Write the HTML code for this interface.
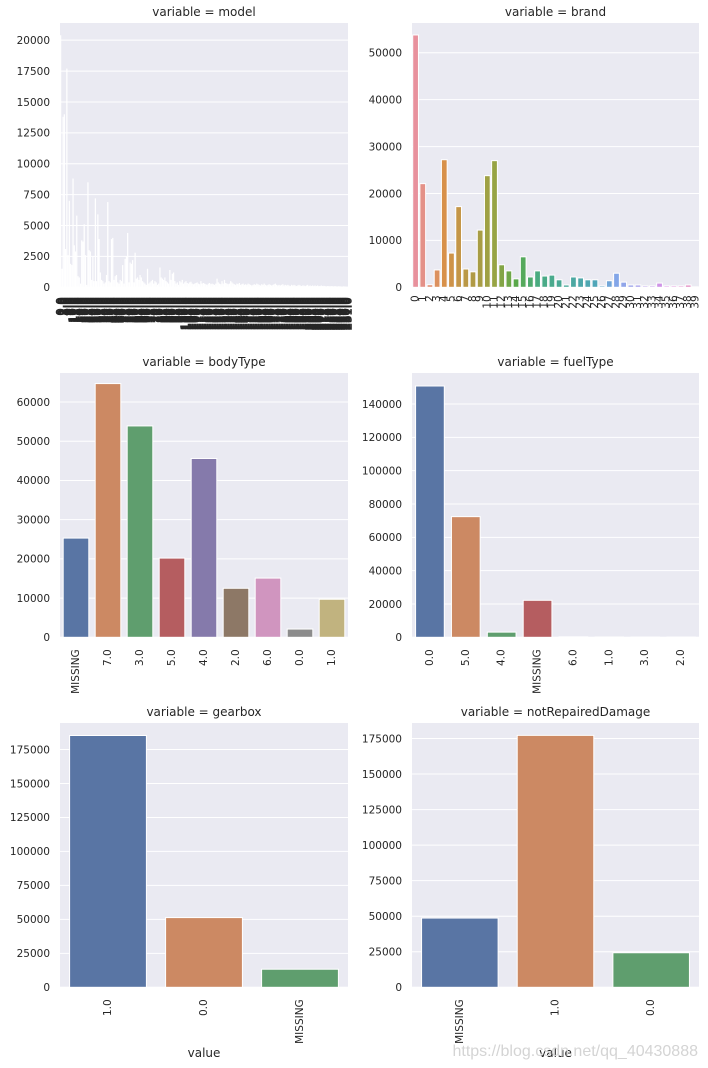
<!DOCTYPE html>
<html><head><meta charset="utf-8"><style>
html,body{margin:0;padding:0;background:#fff}
svg{display:block;font-family:"DejaVu Sans","Liberation Sans",sans-serif}
</style></head><body>
<svg id="chart" width="708" height="1068" viewBox="0 0 708 1068"></svg>
<script>
const modelValues=[20400,1500,13800,14000,3100,17700,2600,7000,1900,1800,8800,3400,2900,5800,900,800,300,3800,3700,5100,2600,200,8500,3000,2900,600,2500,500,7200,500,5900,3900,1200,600,500,300,400,1000,6900,500,400,3900,4000,600,900,1000,400,300,600,500,1800,300,2300,2500,4400,400,2000,1900,2200,400,
2800,700,800,600,1000,800,500,400,300,200,1500,300,400,500,600,300,500,400,200,300,1600,800,700,600,800,500,400,300,1400,600,1100,1200,500,300,400,200,
500,400,600,300,400,500,350,300,400,450,300,250,300,350,400,300,250,500,300,350,
300,250,200,300,350,250,300,250,200,300,700,400,300,250,500,300,600,350,300,250,
300,500,400,300,250,200,300,250,350,200,250,300,200,250,200,300,250,200,150,200,
250,200,300,250,200,150,250,200,300,200,150,200,250,200,150,200,250,300,200,150,
200,150,200,250,150,200,150,200,150,100,200,150,200,150,100,150,200,150,100,150,
150,100,150,200,100,150,100,150,100,150,100,150,100,100,150,100,120,100,80,100,
100,80,100,90,80,100,80,70,90,80,70,60,80,70,60,50];
const modelCats=modelValues.map((v,i)=>i+'.0');
const modelTicks=[0,2500,5000,7500,10000,12500,15000,17500,20000];

const brandCats=['0','1','2','3','4','5','6','7','8','9','10','11','12','13','14','15','16','17','18','19','20','21','22','23','24','25','26','27','28','29','30','31','32','33','34','35','36','37','38','39'];
const brandValues=[53800,22100,550,3700,27200,7300,17200,3900,3300,12200,23800,27000,4800,3500,1800,6500,2200,3500,2400,2600,1600,500,2200,2000,1600,1600,300,1400,3000,1100,500,500,300,300,900,300,300,300,500,100];
const brandTicks=[0,10000,20000,30000,40000,50000];

const bodyCats=['MISSING','7.0','3.0','5.0','4.0','2.0','6.0','0.0','1.0'];
const bodyValues=[25300,64700,53900,20200,45600,12500,15100,2100,9700];
const bodyTicks=[0,10000,20000,30000,40000,50000,60000];

const fuelCats=['0.0','5.0','4.0','MISSING','6.0','1.0','3.0','2.0'];
const fuelValues=[150800,72400,3100,22200,300,200,100,100];
const fuelTicks=[0,20000,40000,60000,80000,100000,120000,140000];

const gearCats=['1.0','0.0','MISSING'];
const gearValues=[185300,51300,13300];
const gearTicks=[0,25000,50000,75000,100000,125000,150000,175000];

const dmgCats=['MISSING','1.0','0.0'];
const dmgValues=[48700,177200,24300];
const dmgTicks=[0,25000,50000,75000,100000,125000,150000,175000];

const deep=['#5975a4','#cc8963','#5f9e6e','#b55d60','#857aab','#8d7866','#d095bf','#8c8c8c','#c1b37f'];
const NS='http://www.w3.org/2000/svg';
const svg=document.getElementById('chart');
function mk(tag,attrs,parent){const e=document.createElementNS(NS,tag);for(const k in attrs)e.setAttribute(k,attrs[k]);(parent||svg).appendChild(e);return e;}
function hex2rgb(h){return [1,3,5].map(i=>parseInt(h.substr(i,2),16));}
const brandAnchors=[[0,'#e8919d'],[4,'#d8914a'],[8,'#b09a45'],[11,'#97a444'],[14,'#5aa84a'],[17,'#4aab80'],[21,'#4aa89a'],[25,'#50a6b8'],[28,'#83a6e8'],[31,'#a9a2eb'],[35,'#dc8ee6'],[39,'#e58fb8']];
function brandColor(i){for(let k=0;k<brandAnchors.length-1;k++){const a=brandAnchors[k],b=brandAnchors[k+1];if(i>=a[0]&&i<=b[0]){const t=(i-a[0])/(b[0]-a[0]);const ca=hex2rgb(a[1]),cb=hex2rgb(b[1]);return 'rgb('+ca.map((c,j)=>Math.round(c+(cb[j]-c)*t)).join(',')+')';}}return '#e58fb8';}

function panel(o){
  const g=mk('g',{});
  
  
  const bg=mk('rect',{x:o.x0,y:o.top,width:o.x1-o.x0,height:o.bottom-o.top,fill:'#eaeaf2'},g);
  
  
  const ys=v=>o.bottom-(v/o.ymax)*(o.bottom-o.top);
  o.ticks.forEach(t=>{
    const gl=mk('line',{x1:o.x0,x2:o.x1,y1:ys(t),y2:ys(t),stroke:'#fff','stroke-width':1},g);
    
    
    const tl=mk('text',{x:o.x0-10,y:ys(t)+3.8,'text-anchor':'end','font-size':'10.5',fill:'#262626'},g);
    tl.textContent=t;
    
    
  });
  const n=o.cats.length,slot=(o.x1-o.x0)/n;
  o.values.forEach((v,i)=>{
    const bw=o.white?slot:slot*0.8;
    const bx=o.x0+slot*i+(slot-bw)/2;
    const r=mk('rect',{x:bx,y:ys(v),width:bw,height:o.bottom-ys(v),fill:o.white?'#fff':o.color(i),stroke:o.white?'none':'#fff','stroke-width':o.white?0:1},g);
    
    
  });
  o.cats.forEach((c,i)=>{
    const cx=o.x0+slot*(i+0.5),ty=o.bottom+o.labPad;
    const attrs={x:cx,y:ty,transform:'rotate(-90 '+cx+' '+ty+')','text-anchor':'end','dominant-baseline':'central','font-size':o.labSize||'10.5',fill:'#262626'};
    if(o.white){attrs.stroke='#262626';attrs['stroke-width']='0.6';}
    const t=mk('text',attrs,g);
    t.textContent=c;
    
    
  });
  const tt=mk('text',{x:(o.x0+o.x1)/2,y:o.top-7,'text-anchor':'middle','font-size':'12',fill:'#262626'},g);
  tt.textContent='variable = '+o.name;
  
  
  if(o.xlabel){
    const xl=mk('text',{x:(o.x0+o.x1)/2,y:1057,'text-anchor':'middle','font-size':'12',fill:'#262626'},g);
    xl.textContent='value';
    
    
  }
}
const L=[60,348],R=[412,699];
panel({name:'model',x0:L[0],x1:L[1],top:23,bottom:287.3,ymax:21390,ticks:modelTicks,cats:modelCats,values:modelValues,white:true,labPad:10,labSize:'11.5'});
panel({name:'brand',x0:R[0],x1:R[1],top:23,bottom:287.3,ymax:56350,ticks:brandTicks,cats:brandCats,values:brandValues,color:brandColor,labPad:8});
panel({name:'bodyType',x0:L[0],x1:L[1],top:373,bottom:637.3,ymax:67400,ticks:bodyTicks,cats:bodyCats,values:bodyValues,color:i=>deep[i],labPad:12});
panel({name:'fuelType',x0:R[0],x1:R[1],top:373,bottom:637.3,ymax:158600,ticks:fuelTicks,cats:fuelCats,values:fuelValues,color:i=>deep[i],labPad:12});
panel({name:'gearbox',x0:L[0],x1:L[1],top:723,bottom:987.3,ymax:194500,ticks:gearTicks,cats:gearCats,values:gearValues,color:i=>deep[i],labPad:12,xlabel:true});
panel({name:'notRepairedDamage',x0:R[0],x1:R[1],top:723,bottom:987.3,ymax:185900,ticks:dmgTicks,cats:dmgCats,values:dmgValues,color:i=>deep[i],labPad:12,xlabel:true});
const wm=mk('text',{x:698,y:1056,'text-anchor':'end','font-size':'16',fill:'#d4d4d4','font-family':'Liberation Sans, sans-serif'});
wm.textContent='https://blog.csdn.net/qq_40430888';


</script>
</body></html>
